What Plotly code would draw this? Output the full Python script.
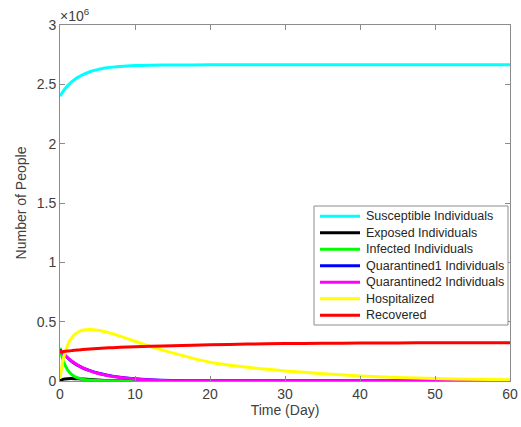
import plotly.graph_objects as go

t = [0, 0.25, 0.5, 1, 1.5, 2, 2.5, 3, 4, 5, 6, 7, 8, 10, 12, 15, 20, 25, 30, 35, 40, 45, 50, 55, 60]

susceptible = [2.400, 2.425, 2.448, 2.487, 2.518, 2.543, 2.563, 2.580, 2.606, 2.624, 2.637, 2.645, 2.651, 2.658, 2.661, 2.663, 2.664, 2.665, 2.665, 2.665, 2.665, 2.665, 2.665, 2.665, 2.665]
exposed = [0.000, 0.010, 0.016, 0.020, 0.021, 0.020, 0.018, 0.016, 0.012, 0.008, 0.005, 0.003, 0.002, 0.001, 0.0, 0.0, 0.0, 0.0, 0.0, 0.0, 0.0, 0.0, 0.0, 0.0, 0.0]
infected = [0.280, 0.210, 0.160, 0.095, 0.058, 0.036, 0.024, 0.016, 0.008, 0.004, 0.002, 0.001, 0.0, 0.0, 0.0, 0.0, 0.0, 0.0, 0.0, 0.0, 0.0, 0.0, 0.0, 0.0, 0.0]
quarantined1 = [0.265, 0.245, 0.228, 0.196, 0.168, 0.146, 0.127, 0.111, 0.087, 0.068, 0.053, 0.041, 0.032, 0.018, 0.010, 0.004, 0.001, 0.0, 0.0, 0.0, 0.0, 0.0, 0.0, 0.0, 0.0]
quarantined2 = [0.260, 0.242, 0.226, 0.197, 0.171, 0.149, 0.129, 0.112, 0.085, 0.065, 0.050, 0.038, 0.029, 0.016, 0.009, 0.003, 0.001, 0.0, 0.0, 0.0, 0.0, 0.0, 0.0, 0.0, 0.0]
hospitalized = [0.020, 0.120, 0.200, 0.300, 0.360, 0.395, 0.415, 0.427, 0.434, 0.428, 0.415, 0.398, 0.378, 0.335, 0.292, 0.237, 0.158, 0.115, 0.085, 0.062, 0.043, 0.030, 0.021, 0.015, 0.010]
recovered = [0.245, 0.246, 0.248, 0.252, 0.256, 0.259, 0.262, 0.265, 0.270, 0.274, 0.278, 0.281, 0.284, 0.289, 0.293, 0.298, 0.305, 0.311, 0.315, 0.318, 0.320, 0.321, 0.322, 0.322, 0.323]

names = ["Susceptible Individuals", "Exposed Individuals", "Infected Individuals",
         "Quarantined1 Individuals", "Quarantined2 Individuals", "Hospitalized", "Recovered"]
series = [susceptible, exposed, infected, quarantined1, quarantined2, hospitalized, recovered]
colors = ["#00FFFF", "#000000", "#00FF00", "#0000FF", "#FF00FF", "#FFFF00", "#FF0000"]

yticks = [0, 0.5, 1, 1.5, 2, 2.5, 3]
xticks = [0, 10, 20, 30, 40, 50, 60]

fig = go.Figure()
for n, s, c in zip(names, series, colors):
    fig.add_trace(go.Scatter(x=t, y=[v * 1e6 for v in s], mode="lines", name=n,
                             showlegend=False,
                             line=dict(color=c, width=3, shape="spline", smoothing=0.8)))

W, H = 521, 427
ML, MR, MT, MB = 60, 11, 25, 46
PW, PH = W - ML - MR, H - MT - MB


def px_x(x):
    return (x - ML) / PW


def px_y(y):
    return (H - MB - y) / PH


axcol = "#8c8c8c"
font_col = "#404040"

# Legend drawn in MATLAB style (compact rows)
box_l, box_r, box_t, box_b = 314, 508, 206, 325
fig.add_shape(type="rect", xref="paper", yref="paper",
              x0=px_x(box_l), x1=px_x(box_r), y0=px_y(box_b), y1=px_y(box_t),
              line=dict(color=axcol, width=1), fillcolor="white", layer="above")
row0, row_step = 216.3, 16.5
for i, (n, c) in enumerate(zip(names, colors)):
    yy = row0 + i * row_step
    fig.add_shape(type="line", xref="paper", yref="paper",
                  x0=px_x(320), x1=px_x(360), y0=px_y(yy), y1=px_y(yy),
                  line=dict(color=c, width=3), layer="above")
    fig.add_annotation(xref="paper", yref="paper", x=px_x(364), y=px_y(yy),
                       xanchor="left", yanchor="middle", text=n, showarrow=False,
                       font=dict(size=12.5, color="#262626"))

fig.update_layout(
    width=W, height=H,
    margin=dict(l=ML, r=MR, t=MT, b=MB, autoexpand=False),
    paper_bgcolor="white", plot_bgcolor="white",
    font=dict(family="Liberation Sans, Arial, sans-serif", size=14, color=font_col),
    showlegend=False,
    xaxis=dict(range=[0, 60], tickvals=xticks, ticks="inside", ticklen=5,
               tickcolor=axcol, showline=True, linecolor=axcol, linewidth=1,
               mirror="ticks", showgrid=False, zeroline=False, automargin=False,
               title=dict(text="Time (Day)", standoff=4, font=dict(size=14))),
    yaxis=dict(range=[0, 3e6], tickvals=[v * 1e6 for v in yticks],
               ticktext=[str(v) for v in yticks], ticks="inside", ticklen=5,
               tickcolor=axcol, showline=True, linecolor=axcol, linewidth=1,
               mirror="ticks", showgrid=False, zeroline=False, automargin=False,
               title=dict(text="Number of People", standoff=6, font=dict(size=14))),
)
fig.add_annotation(xref="paper", yref="paper", x=0, y=1, xanchor="left", yanchor="bottom",
                   text="×10<sup>6</sup>", showarrow=False, font=dict(size=14, color=font_col),
                   xshift=-2, yshift=-1)
fig.write_html("out.html", config={"displayModeBar": False},
               post_script="document.body.style.margin='0';document.body.style.overflow='hidden';")
